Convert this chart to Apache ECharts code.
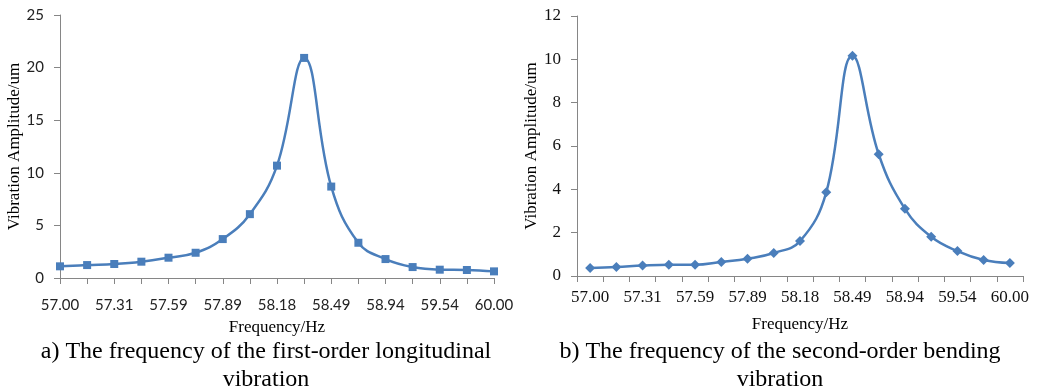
<!DOCTYPE html>
<html>
<head>
<meta charset="utf-8">
<script src="https://cdn.jsdelivr.net/npm/echarts@6/dist/echarts.min.js"></script>
<style>
  html, body { margin: 0; padding: 0; background: #fff; }
  #chart { width: 1050px; height: 392px; }
</style>
</head>
<body>
<div id="chart"></div>
<script>
// frequency categories (only every other one is labelled in the figure)
const freqLabels = ['57.00', '57.16', '57.31', '57.45', '57.59', '57.74', '57.89', '58.03', '58.18',
  '58.33', '58.49', '58.70', '58.94', '59.24', '59.54', '59.77', '60.00'];
// a) first-order longitudinal vibration, amplitude / um
const ampLongitudinal = [1.11, 1.23, 1.33, 1.55, 1.93, 2.40, 3.70, 6.07, 10.68, 20.92, 8.69, 3.35, 1.80, 1.04, 0.79, 0.76, 0.63];
// b) second-order bending vibration, amplitude / um
const ampBending = [0.37, 0.41, 0.48, 0.52, 0.52, 0.65, 0.80, 1.06, 1.61, 3.86, 10.16, 5.62, 3.10, 1.81, 1.15, 0.74, 0.60];
const captions = [
  'a) The frequency of the first-order longitudinal\nvibration',
  'b) The frequency of the second-order bending\nvibration'
];

const blue = '#4a7ebb';
const axisGray = '#868686';
const serif = '"Liberation Serif", "DejaVu Serif", serif';

const chart = echarts.init(document.getElementById('chart'));

const axisLine = { show: true, lineStyle: { color: axisGray, width: 1 } };
const nameStyle = { fontFamily: serif, fontSize: 17, color: '#000' };

const option = {
  animation: false,
  title: [
    {
      text: captions[0], left: 261, top: 333, textAlign: 'center',
      textStyle: { fontFamily: serif, fontSize: 24, fontWeight: 'normal', color: '#000', lineHeight: 28 }
    },
    {
      text: captions[1], left: 775, top: 333, textAlign: 'center',
      textStyle: { fontFamily: serif, fontSize: 24, fontWeight: 'normal', color: '#000', lineHeight: 28 }
    }
  ],
  grid: [
    { left: 60, top: 15, width: 434, height: 263 },
    { left: 577, top: 16, width: 446, height: 260 }
  ],
  xAxis: [
    {
      gridIndex: 0,
      type: 'category',
      data: freqLabels,
      boundaryGap: false,
      axisLine,
      axisTick: { show: true, interval: 0, length: 6, lineStyle: { color: axisGray } },
      axisLabel: { interval: 1, margin: 20, fontFamily: 'Lato', fontSize: 15, color: '#222' },
      name: 'Frequency/Hz', nameLocation: 'middle', nameGap: 41, nameTextStyle: nameStyle
    },
    {
      gridIndex: 1,
      type: 'category',
      data: freqLabels,
      boundaryGap: true,
      axisLine,
      axisTick: { show: true, interval: 0, length: 6, lineStyle: { color: axisGray } },
      axisLabel: { interval: 1, margin: 13, fontFamily: serif, fontSize: 17, color: '#111' },
      name: 'Frequency/Hz', nameLocation: 'middle', nameGap: 40, nameTextStyle: nameStyle
    }
  ],
  yAxis: [
    {
      gridIndex: 0,
      type: 'value',
      min: 0, max: 25, interval: 5,
      axisLine,
      axisTick: { show: true, length: 6, lineStyle: { color: axisGray } },
      splitLine: { show: false },
      axisLabel: { margin: 16, fontFamily: 'Lato', fontSize: 15, color: '#222' },
      name: 'Vibration Amplitude/um', nameLocation: 'middle', nameGap: 35, nameTextStyle: nameStyle
    },
    {
      gridIndex: 1,
      type: 'value',
      min: 0, max: 12, interval: 2,
      axisLine,
      axisTick: { show: true, length: 6, lineStyle: { color: axisGray } },
      splitLine: { show: false },
      axisLabel: { margin: 16, fontFamily: serif, fontSize: 17, color: '#111' },
      name: 'Vibration Amplitude/um', nameLocation: 'middle', nameGap: 37, nameTextStyle: nameStyle
    }
  ],
  series: [
    {
      type: 'line',
      xAxisIndex: 0, yAxisIndex: 0,
      data: ampLongitudinal,
      smooth: 0.42,
      symbol: 'rect', symbolSize: 8,
      itemStyle: { color: blue },
      lineStyle: { color: blue, width: 2.5 }
    },
    {
      type: 'line',
      xAxisIndex: 1, yAxisIndex: 1,
      data: ampBending,
      smooth: 0.42,
      symbol: 'diamond', symbolSize: 10,
      itemStyle: { color: blue },
      lineStyle: { color: blue, width: 2.5 }
    }
  ]
};

chart.setOption(option);
</script>
</body>
</html>
